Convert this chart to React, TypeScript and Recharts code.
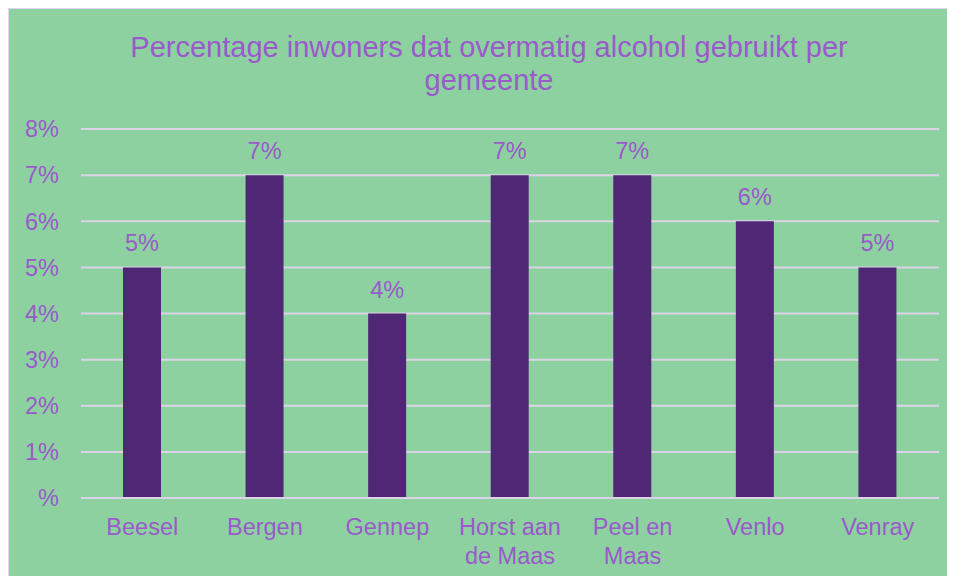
import { BarChart, Bar, XAxis, YAxis, CartesianGrid, LabelList } from 'recharts';

const gemeenten = ['Beesel', 'Bergen', 'Gennep', 'Horst aan\nde Maas', 'Peel en\nMaas', 'Venlo', 'Venray'];
const percentages = [5, 7, 4, 7, 7, 6, 5];
const yTicks = [0, 1, 2, 3, 4, 5, 6, 7, 8];
const yTickLabels = ['%', '1%', '2%', '3%', '4%', '5%', '6%', '7%', '8%'];
const titleLines = ['Percentage inwoners dat overmatig alcohol gebruikt per', 'gemeente'];

const TEXT = '#9a5acb';
const FONT = 'Liberation Sans, Arial, sans-serif';

const data = gemeenten.map((name, i) => ({ name, value: percentages[i] }));

function CategoryTick({ x, y, payload }: any) {
  const lines = String(payload.value).split('\n');
  return (
    <text x={x} y={y} textAnchor="middle" fill={TEXT} fontSize={23.5} fontFamily={FONT}>
      {lines.map((line, i) => (
        <tspan key={i} x={x} dy={i === 0 ? 29 : 29}>
          {line}
        </tspan>
      ))}
    </text>
  );
}

export default function App() {
  return (
    <div
      style={{
        position: 'relative',
        width: 946,
        height: 567,
        background: '#8dd1a0',
        borderLeft: '1px solid #e2d4f0',
        borderTop: '1px solid #e2d4f0',
        fontFamily: FONT,
      }}
    >
      <div
        style={{
          position: 'absolute',
          left: 0,
          width: 960,
          top: 22,
          textAlign: 'center',
          color: TEXT,
          fontSize: 29,
          lineHeight: '33px',
        }}
      >
        {titleLines.map((t) => (
          <div key={t}>{t}</div>
        ))}
      </div>
      <BarChart
        width={946}
        height={567}
        data={data}
        margin={{ top: 120, right: 16, bottom: 48, left: 0 }}
      >
        <CartesianGrid vertical={false} stroke="#dcd3e8" strokeWidth={2} />
        <XAxis
          dataKey="name"
          axisLine={{ stroke: '#dcd3e8', strokeWidth: 2 }}
          tickLine={false}
          interval={0}
          tick={<CategoryTick />}
        />
        <YAxis
          width={72}
          domain={[0, 8]}
          ticks={yTicks}
          axisLine={false}
          tickLine={false}
          tickSize={0}
          tickMargin={22}
          tickFormatter={(v: number) => yTickLabels[yTicks.indexOf(v)]}
          tick={{ fill: TEXT, fontSize: 23.5, fontFamily: FONT }}
        />
        <Bar dataKey="value" fill="#4f2775" barSize={38} isAnimationActive={false}>
          <LabelList
            dataKey="value"
            position="top"
            offset={16}
            formatter={(v: any) => `${v}%`}
            style={{ fill: TEXT, fontSize: 23.5, fontFamily: FONT }}
          />
        </Bar>
      </BarChart>
    </div>
  );
}
